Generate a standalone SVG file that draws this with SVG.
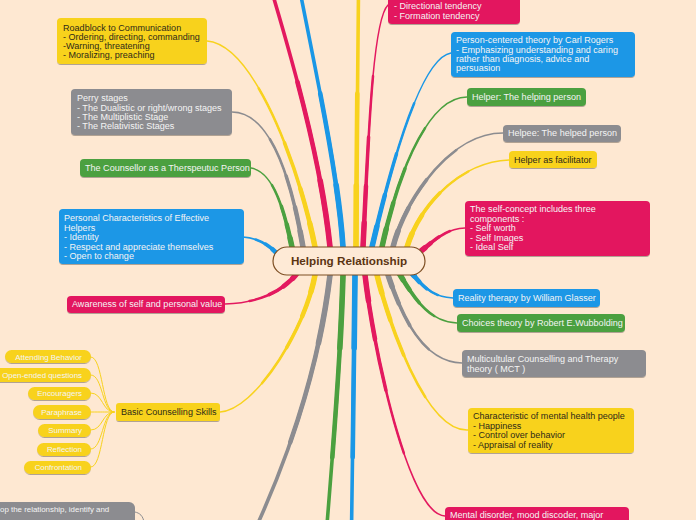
<svg xmlns="http://www.w3.org/2000/svg" xmlns:xlink="http://www.w3.org/1999/xlink" width="696" height="520" viewBox="0 0 696 520">
<defs>
<filter id="sh" x="-10%" y="-20%" width="120%" height="160%">
<feDropShadow dx="0" dy="1" stdDeviation="0.7" flood-color="#000" flood-opacity="0.3"/>
</filter>
</defs>
<style>
text{font-family:"Liberation Sans",Arial,sans-serif;font-size:9.05px;fill:#f4f4f4}
.dk{fill:#2f2a18}
.sm{font-size:7.9px}
.Y{stroke:#F8D21E}.R{stroke:#E3195F}.B{stroke:#1A97E6}.G{stroke:#4BA03F}.K{stroke:#8C8C90}
.fY{fill:#F8D21E}.fR{fill:#E3195F}.fB{fill:#1A97E6}.fG{fill:#4BA03F}.fK{fill:#8C8C90}
.n rect{filter:url(#sh)}
.a{stroke-width:1.5}
.b{stroke-width:2.5;stroke-dasharray:70 300}
.c{stroke-width:3.5;stroke-dasharray:45 300}
.d{stroke-width:4.5;stroke-dasharray:25 300}
.e{stroke-width:5.5;stroke-dasharray:10 300}
.A{stroke-width:3.6}
.D{stroke-width:4.6;stroke-dasharray:50 300}
.E{stroke-width:5.6;stroke-dasharray:20 300}
.thin{stroke-width:1}
</style>
<rect width="696" height="520" fill="#FEE8D2"/>
<g id="connectors" fill="none" stroke-linecap="round">
<g class="a"><g id="br">
<path class="G" pathLength="100" d="M292,247 C285,215 275,172 251,168"/>
<path class="K" pathLength="100" d="M303,247 C294,195 275,112 232,112"/>
<path class="Y" pathLength="100" d="M315,247 C300,170 255,45 207,41"/>
<path class="R" pathLength="100" d="M363,247 C368,150 372,20 388,5"/>
<path class="B" pathLength="100" d="M372,247 C390,170 420,58 451,53"/>
<path class="G" pathLength="100" d="M382,247 C400,165 430,97 467,97"/>
<path class="K" pathLength="100" d="M393,247 C405,200 450,133 503,133"/>
<path class="Y" pathLength="100" d="M407,247 C420,205 460,162 509,160"/>
<path class="R" pathLength="100" d="M421,251 C435,240 445,229 465,228"/>
<path class="B" pathLength="100" d="M411,272 C425,290 435,297 453,298"/>
<path class="G" pathLength="100" d="M399,273 C415,300 430,322 457,323"/>
<path class="K" pathLength="100" d="M388,275 C400,310 420,362 462,363"/>
<path class="Y" pathLength="100" d="M377,275 C388,320 425,432 468,430"/>
<path class="R" pathLength="100" d="M365,275 C375,360 410,515 445,516"/>
<path class="Y" pathLength="100" d="M315,275 C305,330 255,410 220,412"/>
<path class="B" pathLength="100" d="M280,257 C270,245 258,238 243,237"/>
<path class="R" pathLength="100" d="M298,272 C285,290 260,303 225,304"/>
</g></g>
<use href="#br" class="b"/>
<use href="#br" class="c"/>
<use href="#br" class="d"/>
<use href="#br" class="e"/>
<g class="A"><g id="br2">
<path class="R" pathLength="100" d="M330,247 C322,170 300,80 250,-80"/>
<path class="B" pathLength="100" d="M343,247 C338,170 315,70 290,-60"/>
<path class="Y" pathLength="100" d="M356,247 C356,160 358,60 359,-60"/>
<path class="B" pathLength="100" d="M355,275 C354,380 352,500 350,640"/>
<path class="G" pathLength="100" d="M343,275 C340,380 330,480 318,640"/>
<path class="K" pathLength="100" d="M330,275 C320,360 290,470 220,600"/>
</g></g>
<use href="#br2" class="D"/>
<use href="#br2" class="E"/>
<g class="Y thin">
<path d="M114,412 C102,412 103,357 91,357"/>
<path d="M114,412 C102,412 103,375 91,375"/>
<path d="M114,412 C102,412 103,393 91,393"/>
<path d="M114,412 C102,412 103,412 91,412"/>
<path d="M114,412 C102,412 103,430 91,430"/>
<path d="M114,412 C102,412 103,449 91,449"/>
<path d="M114,412 C102,412 103,467 91,467"/>
</g>
<path class="K thin" d="M135,512 C140,513 143,516 144,522"/>
</g>

<g id="roadblock" class="n"><rect class="fY" x="57" y="18" width="150" height="46" rx="4"/>
<text class="dk"><tspan x="63" y="30.5">Roadblock to Communication</tspan><tspan x="63" y="39.8">- Ordering, directing, commanding</tspan><tspan x="63" y="49.1">-Warning, threatening</tspan><tspan x="63" y="58.4">- Moralizing, preaching</tspan></text></g>
<g id="perry" class="n"><rect class="fK" x="71" y="89" width="161" height="46" rx="4"/>
<text><tspan x="77" y="101.3">Perry stages</tspan><tspan x="77" y="110.6">- The Dualistic or right/wrong stages</tspan><tspan x="77" y="119.9">- The Multiplistic Stage</tspan><tspan x="77" y="129.2">- The Relativistic Stages</tspan></text></g>
<g id="counsellor" class="n"><rect class="fG" x="80" y="159" width="171" height="18" rx="4"/>
<text x="85" y="171.2">The Counsellor as a Therspeutuc Person</text></g>
<g id="personal" class="n"><rect class="fB" x="59" y="209" width="185" height="55" rx="4"/>
<text><tspan x="64" y="221.3">Personal Characteristics of Effective</tspan><tspan x="64" y="230.7">Helpers</tspan><tspan x="64" y="240.1">- Identity</tspan><tspan x="64" y="249.5">- Respect and appreciate themselves</tspan><tspan x="64" y="258.9">- Open to change</tspan></text></g>
<g id="awareness" class="n"><rect class="fR" x="67" y="296" width="158" height="17" rx="4"/>
<text x="72" y="307.4">Awareness of self and personal value</text></g>
<g id="basic" class="n"><rect class="fY" x="116" y="403" width="104" height="18" rx="3"/>
<text class="dk" x="121" y="415.3">Basic Counselling Skills</text></g>
<g id="attending" class="n"><rect class="fY" x="5" y="350" width="86" height="13" rx="6.5"/><text class="sm" x="82" y="359.8" text-anchor="end">Attending Behavior</text></g>
<g id="openended" class="n"><rect class="fY" x="-12" y="368" width="103" height="14" rx="7"/><text class="sm" x="82" y="377.8" text-anchor="end">Open-ended questions</text></g>
<g id="encouragers" class="n"><rect class="fY" x="28" y="387" width="63" height="13" rx="6.5"/><text class="sm" x="82" y="396.3" text-anchor="end">Encouragers</text></g>
<g id="paraphrase" class="n"><rect class="fY" x="33" y="405" width="58" height="14" rx="7"/><text class="sm" x="82" y="414.8" text-anchor="end">Paraphrase</text></g>
<g id="summary" class="n"><rect class="fY" x="38" y="424" width="53" height="13" rx="6.5"/><text class="sm" x="82" y="433.3" text-anchor="end">Summary</text></g>
<g id="reflection" class="n"><rect class="fY" x="37" y="443" width="54" height="13" rx="6.5"/><text class="sm" x="82" y="452.3" text-anchor="end">Reflection</text></g>
<g id="confrontation" class="n"><rect class="fY" x="24" y="461" width="67" height="13" rx="6.5"/><text class="sm" x="82" y="470.3" text-anchor="end">Confrontation</text></g>
<g id="develop" class="n"><rect class="fK" x="-20" y="502" width="155" height="40" rx="6"/><text class="sm" x="0" y="511.5">op the relationship, identify and</text></g>

<g id="directional" class="n"><rect class="fR" x="388" y="-20" width="132" height="44" rx="4"/>
<text><tspan x="394" y="9.2">- Directional tendency</tspan><tspan x="394" y="18.8">- Formation tendency</tspan></text></g>
<g id="personcentered" class="n"><rect class="fB" x="451" y="32" width="184" height="45" rx="4"/>
<text><tspan x="456" y="43.2">Person-centered theory by Carl Rogers</tspan><tspan x="456" y="52.5">- Emphasizing understanding and caring</tspan><tspan x="456" y="61.8">rather than diagnosis, advice and</tspan><tspan x="456" y="71.1">persuasion</tspan></text></g>
<g id="helper" class="n"><rect class="fG" x="467" y="88" width="119" height="18" rx="4"/><text x="472" y="100.3">Helper: The helping person</text></g>
<g id="helpee" class="n"><rect class="fK" x="503" y="125" width="118" height="17" rx="4"/><text x="508" y="136.4">Helpee: The helped person</text></g>
<g id="facilitator" class="n"><rect class="fY" x="509" y="151" width="88" height="17" rx="4"/><text class="dk" x="514" y="163.3">Helper as facilitator</text></g>
<g id="selfconcept" class="n"><rect class="fR" x="465" y="201" width="185" height="55" rx="4"/>
<text><tspan x="470" y="212.3">The self-concept includes three</tspan><tspan x="470" y="221.7">components :</tspan><tspan x="470" y="231.1">- Self worth</tspan><tspan x="470" y="240.5">- Self Images</tspan><tspan x="470" y="249.9">- Ideal Self</tspan></text></g>
<g id="reality" class="n"><rect class="fB" x="453" y="289" width="147" height="18" rx="4"/><text x="458" y="301.3">Reality therapy by William Glasser</text></g>
<g id="choices" class="n"><rect class="fG" x="457" y="314" width="168" height="18" rx="4"/><text x="462" y="326.3">Choices theory by Robert E.Wubbolding</text></g>
<g id="multicultural" class="n"><rect class="fK" x="462" y="350" width="184" height="27" rx="4"/>
<text><tspan x="467" y="362.2">Multicultular Counselling and Therapy</tspan><tspan x="467" y="371.5">theory ( MCT )</tspan></text></g>
<g id="characteristic" class="n"><rect class="fY" x="468" y="408" width="166" height="45" rx="4"/>
<text class="dk"><tspan x="473" y="419.3">Characteristic of mental health people</tspan><tspan x="473" y="428.7">- Happiness</tspan><tspan x="473" y="438.1">- Control over behavior</tspan><tspan x="473" y="447.5">- Appraisal of reality</tspan></text></g>
<g id="mental" class="n"><rect class="fR" x="445" y="507" width="184" height="30" rx="4"/><text x="450" y="518.3">Mental disorder, mood discoder, major</text></g>

<g id="central"><rect x="273" y="247" width="152" height="28" rx="14" fill="#FEEAD6" stroke="#7D4E22" stroke-width="1.2"/>
<text x="349" y="265.2" text-anchor="middle" style="font-size:11.7px;font-weight:bold;fill:#5B3412">Helping Relationship</text></g>
</svg>
